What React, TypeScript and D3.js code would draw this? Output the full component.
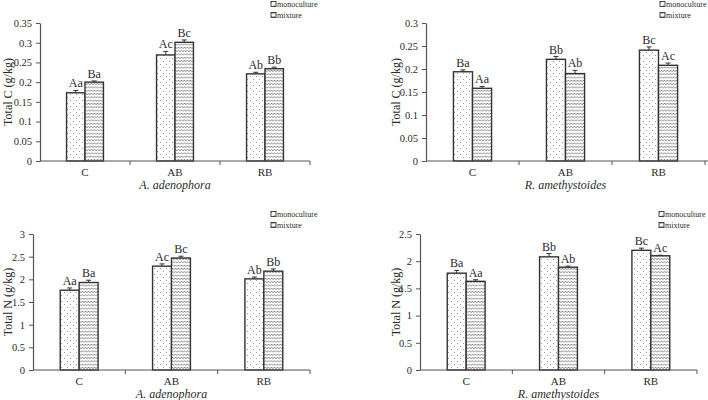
import React, { useEffect, useRef } from 'react';
import * as d3 from 'd3';

const categories = ['C', 'AB', 'RB'];
const seriesNames = ['monoculture', 'mixture'];

// Total C, A. adenophora
const cAdenMono = [0.173, 0.269, 0.221];
const cAdenMix = [0.2, 0.301, 0.234];
const cAdenMonoErr = [0.006, 0.009, 0.004];
const cAdenMixErr = [0.003, 0.006, 0.004];
const cAdenMonoLbl = ['Aa', 'Ac', 'Ab'];
const cAdenMixLbl = ['Ba', 'Bc', 'Bb'];

// Total C, R. amethystoides
const cAmetMono = [0.194, 0.221, 0.241];
const cAmetMix = [0.158, 0.19, 0.208];
const cAmetMonoErr = [0.004, 0.006, 0.007];
const cAmetMixErr = [0.004, 0.007, 0.005];
const cAmetMonoLbl = ['Ba', 'Bb', 'Bc'];
const cAmetMixLbl = ['Aa', 'Ab', 'Ac'];

// Total N, A. adenophora
const nAdenMono = [1.76, 2.29, 2.01];
const nAdenMix = [1.93, 2.47, 2.18];
const nAdenMonoErr = [0.05, 0.05, 0.04];
const nAdenMixErr = [0.05, 0.04, 0.05];
const nAdenMonoLbl = ['Aa', 'Ac', 'Ab'];
const nAdenMixLbl = ['Ba', 'Bc', 'Bb'];

// Total N, R. amethystoides
const nAmetMono = [1.78, 2.08, 2.2];
const nAmetMix = [1.63, 1.89, 2.1];
const nAmetMonoErr = [0.05, 0.06, 0.04];
const nAmetMixErr = [0.03, 0.02, 0.01];
const nAmetMonoLbl = ['Ba', 'Bb', 'Bc'];
const nAmetMixLbl = ['Aa', 'Ab', 'Ac'];

const cTicks = [0, 0.05, 0.1, 0.15, 0.2, 0.25, 0.3, 0.35];
const cTicks2 = [0, 0.05, 0.1, 0.15, 0.2, 0.25, 0.3];
const nTicks = [0, 0.5, 1, 1.5, 2, 2.5, 3];
const nTicks2 = [0, 0.5, 1, 1.5, 2, 2.5];

const FONT = '"Liberation Serif", "Times New Roman", serif';
const INK = '#2b2b2b';

const panels = [
  {
    id: 'p1', yTitle: 'Total C (g/kg)', xTitle: 'A. adenophora', ticks: cTicks,
    mono: cAdenMono, mix: cAdenMix, monoErr: cAdenMonoErr, mixErr: cAdenMixErr,
    monoLbl: cAdenMonoLbl, mixLbl: cAdenMixLbl,
    x0: 40, x1: 310, xEnd: 310, top: 23, bottom: 161, yLabX: 8, legX: 273, legY: 4,
  },
  {
    id: 'p2', yTitle: 'Total C (g/kg)', xTitle: 'R. amethystoides', ticks: cTicks2,
    mono: cAmetMono, mix: cAmetMix, monoErr: cAmetMonoErr, mixErr: cAmetMixErr,
    monoLbl: cAmetMonoLbl, mixLbl: cAmetMixLbl,
    x0: 426, x1: 705, xEnd: 708, top: 23, bottom: 161, yLabX: 396, legX: 662, legY: 4,
  },
  {
    id: 'p3', yTitle: 'Total N (g/kg)', xTitle: 'A. adenophora', ticks: nTicks,
    mono: nAdenMono, mix: nAdenMix, monoErr: nAdenMonoErr, mixErr: nAdenMixErr,
    monoLbl: nAdenMonoLbl, mixLbl: nAdenMixLbl,
    x0: 33, x1: 310, xEnd: 310, top: 234, bottom: 370, yLabX: 8, legX: 273, legY: 214,
  },
  {
    id: 'p4', yTitle: 'Total N (g/kg)', xTitle: 'R. amethystoides', ticks: nTicks2,
    mono: nAmetMono, mix: nAmetMix, monoErr: nAmetMonoErr, mixErr: nAmetMixErr,
    monoLbl: nAmetMonoLbl, mixLbl: nAmetMixLbl,
    x0: 420, x1: 697, xEnd: 697, top: 234, bottom: 370, yLabX: 396, legX: 661, legY: 214,
  },
];

export default function App() {
  const ref = useRef<SVGSVGElement>(null);

  useEffect(() => {
    const svg = d3.select(ref.current);
    svg.selectAll('*').remove();

    const defs = svg.append('defs');
    const dots = defs.append('pattern').attr('id', 'dots')
      .attr('patternUnits', 'userSpaceOnUse').attr('width', 6).attr('height', 6);
    dots.append('rect').attr('width', 6).attr('height', 6).attr('fill', '#fff');
    dots.append('circle').attr('cx', 1.5).attr('cy', 1.5).attr('r', 0.5).attr('fill', '#777');
    dots.append('circle').attr('cx', 4.5).attr('cy', 4.5).attr('r', 0.5).attr('fill', '#777');

    const zig = defs.append('pattern').attr('id', 'zig')
      .attr('patternUnits', 'userSpaceOnUse').attr('width', 3).attr('height', 3.3);
    zig.append('rect').attr('width', 3).attr('height', 3.3).attr('fill', '#fff');
    zig.append('path').attr('d', 'M0,2.3 L1.5,0.9 L3,2.3')
      .attr('fill', 'none').attr('stroke', '#555').attr('stroke-width', 0.8);

    const fills = ['url(#dots)', 'url(#zig)'];

    panels.forEach((p) => {
      const g = svg.append('g').attr('class', p.id);
      const yMax = p.ticks[p.ticks.length - 1];
      const y = d3.scaleLinear().domain([0, yMax]).range([p.bottom, p.top]);
      const x = d3.scaleBand().domain(categories).range([p.x0, p.x1]);
      const barW = x.bandwidth() * 0.205;
      const xs = d3.scaleBand().domain(seriesNames).range([0, barW * 2]);

      // y axis
      const yAxis = d3.axisLeft(y).tickValues(p.ticks).tickSize(4).tickSizeOuter(0)
        .tickPadding(4).tickFormat((d) => String(+(+d).toFixed(2)));
      const ya = g.append('g').attr('transform', `translate(${p.x0},0)`).call(yAxis);
      ya.select('.domain').attr('stroke', '#555').attr('stroke-width', 1.2);
      ya.selectAll('.tick line').attr('stroke', '#555');
      ya.selectAll('.tick text').attr('font-family', FONT).attr('font-size', 10.5).attr('fill', INK);

      // bars
      const rows = categories.map((c, i) => [
        { c, s: seriesNames[0], v: p.mono[i], e: p.monoErr[i], l: p.monoLbl[i] },
        { c, s: seriesNames[1], v: p.mix[i], e: p.mixErr[i], l: p.mixLbl[i] },
      ]).flat();
      const bx = (d) => (x(d.c) as number) + x.bandwidth() / 2 - barW + (xs(d.s) as number);

      g.selectAll('rect.bar').data(rows).join('rect').attr('class', 'bar')
        .attr('x', bx).attr('width', xs.bandwidth())
        .attr('y', (d) => y(d.v)).attr('height', (d) => y(0) - y(d.v))
        .attr('fill', (d) => fills[seriesNames.indexOf(d.s)])
        .attr('stroke', '#333').attr('stroke-width', 1.4);

      // error bars
      const eb = g.selectAll('g.err').data(rows).join('g').attr('class', 'err');
      eb.append('line')
        .attr('x1', (d) => bx(d) + xs.bandwidth() / 2).attr('x2', (d) => bx(d) + xs.bandwidth() / 2)
        .attr('y1', (d) => y(d.v)).attr('y2', (d) => y(d.v + d.e))
        .attr('stroke', '#333').attr('stroke-width', 1);
      eb.append('line')
        .attr('x1', (d) => bx(d) + xs.bandwidth() / 2 - 2.5).attr('x2', (d) => bx(d) + xs.bandwidth() / 2 + 2.5)
        .attr('y1', (d) => y(d.v + d.e)).attr('y2', (d) => y(d.v + d.e))
        .attr('stroke', '#333').attr('stroke-width', 1);

      // significance letters
      g.selectAll('text.sig').data(rows).join('text').attr('class', 'sig')
        .attr('x', (d) => bx(d) + xs.bandwidth() / 2).attr('y', (d) => y(d.v + d.e) - 3)
        .attr('text-anchor', 'middle').attr('font-family', FONT).attr('font-size', 12)
        .attr('fill', INK).text((d) => d.l);

      // x axis
      g.append('line').attr('x1', p.x0).attr('x2', p.xEnd)
        .attr('y1', p.bottom).attr('y2', p.bottom)
        .attr('stroke', '#555').attr('stroke-width', 1.2);
      const bounds = categories.map((c) => (x(c) as number) + x.bandwidth()).filter((v) => v <= p.xEnd);
      g.selectAll('line.xt').data(bounds).join('line').attr('class', 'xt')
        .attr('x1', (d) => d).attr('x2', (d) => d)
        .attr('y1', p.bottom).attr('y2', p.bottom + 4)
        .attr('stroke', '#555');
      g.selectAll('text.cat').data(categories).join('text').attr('class', 'cat')
        .attr('x', (d) => (x(d) as number) + x.bandwidth() / 2).attr('y', p.bottom + 15)
        .attr('text-anchor', 'middle').attr('font-family', FONT).attr('font-size', 11)
        .attr('fill', INK).text((d) => d);

      g.append('text').attr('x', (p.x0 + p.x1) / 2).attr('y', p.bottom + 28)
        .attr('text-anchor', 'middle').attr('font-family', FONT).attr('font-size', 12)
        .attr('font-style', 'italic').attr('fill', INK).text(p.xTitle);

      g.append('text')
        .attr('transform', `translate(${p.yLabX},${(p.top + p.bottom) / 2}) rotate(-90)`)
        .attr('dy', '0.35em').attr('text-anchor', 'middle').attr('font-family', FONT)
        .attr('font-size', 12).attr('fill', INK).text(p.yTitle);

      // legend
      const lg = g.selectAll('g.leg').data(seriesNames).join('g').attr('class', 'leg')
        .attr('transform', (d, i) => `translate(${p.legX},${p.legY + i * 11})`);
      lg.append('rect').attr('x', -2).attr('y', -2.5).attr('width', 5).attr('height', 5)
        .attr('fill', (d, i) => fills[i]).attr('stroke', '#333').attr('stroke-width', 0.9);
      lg.append('text').attr('x', 4).attr('dy', '0.32em').attr('font-family', FONT)
        .attr('font-size', 8).attr('fill', INK).text((d) => d);
    });
  }, []);

  return (
    <svg ref={ref} width={708} height={400}
      style={{ position: 'absolute', left: 0, top: 0, background: '#fff' }} />
  );
}
